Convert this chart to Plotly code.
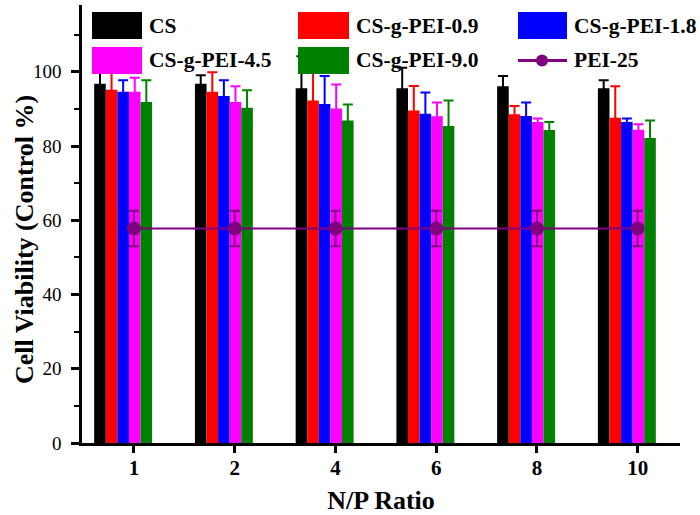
import plotly.graph_objects as go

# ---------------- data ----------------
np_ratio = ["1", "2", "4", "6", "8", "10"]

series_names = ["CS", "CS-g-PEI-0.9", "CS-g-PEI-1.8", "CS-g-PEI-4.5", "CS-g-PEI-9.0"]

cs_vals = [96.8, 96.8, 95.6, 95.6, 96.1, 95.6]
cs_err = [3.0, 2.3, 8.6, 5.5, 2.8, 2.1]

pei09_vals = [95.2, 94.6, 92.3, 89.6, 88.6, 87.6]
pei09_err = [4.7, 5.3, 8.8, 6.6, 2.2, 8.5]

pei18_vals = [94.6, 93.5, 91.3, 88.7, 88.1, 86.5]
pei18_err = [3.1, 4.2, 7.6, 5.7, 3.6, 0.9]

pei45_vals = [94.6, 91.9, 90.1, 88.0, 86.5, 84.4]
pei45_err = [3.8, 4.2, 6.5, 3.7, 0.9, 1.5]

pei90_vals = [91.9, 90.3, 86.9, 85.4, 84.3, 82.2]
pei90_err = [5.8, 4.7, 4.3, 6.9, 2.2, 4.7]

pei25_vals = [57.8, 57.8, 57.8, 57.8, 57.8, 57.8]
pei25_err = [4.8, 4.8, 4.8, 4.8, 4.8, 4.8]

# ---------------- style ----------------
colors = ["#000000", "#FF0000", "#0000FF", "#FF00FF", "#008000"]
pei25_color = "#800080"
FONT = "Liberation Serif"

values = [cs_vals, pei09_vals, pei18_vals, pei45_vals, pei90_vals]
errors = [cs_err, pei09_err, pei18_err, pei45_err, pei90_err]
bar_w = 0.115
offsets = [-0.395, -0.28, -0.165, -0.05, 0.065]

fig = go.Figure()
for name, v, e, c, off in zip(series_names, values, errors, colors, offsets):
    fig.add_trace(go.Bar(
        x=np_ratio, y=v, name=name, width=bar_w, offset=off,
        marker=dict(color=c, line=dict(width=0)),
        error_y=dict(type="data", array=e, color=c, thickness=2, width=5),
        showlegend=False,
    ))

fig.add_trace(go.Scatter(
    x=np_ratio, y=pei25_vals, name="PEI-25", mode="lines+markers",
    line=dict(color=pei25_color, width=2),
    marker=dict(color=pei25_color, size=14, symbol="circle"),
    error_y=dict(type="data", array=pei25_err, color=pei25_color, thickness=2, width=5),
    showlegend=False,
))

# plot area in pixels
L, R, T, B = 82, 680, 5, 443


def px(xp):
    return (xp - L) / (R - L)


def py(yp):
    return (B - yp) / (B - T)


# manual legend (large boxes as in the original)
legend_rows = [
    [(92, 142, colors[0], "CS"), (298, 349, colors[1], "CS-g-PEI-0.9"), (518, 567, colors[2], "CS-g-PEI-1.8")],
    [(92, 142, colors[3], "CS-g-PEI-4.5"), (298, 349, colors[4], "CS-g-PEI-9.0"), (518, 567, None, "PEI-25")],
]
row_y = [(12, 39), (47, 74)]
shapes = []
annotations = []
for (y0, y1), row in zip(row_y, legend_rows):
    yc = (y0 + y1) / 2
    for x0, x1, c, label in row:
        if c is not None:
            shapes.append(dict(type="rect", xref="paper", yref="paper",
                               x0=px(x0), x1=px(x1), y0=py(y1), y1=py(y0),
                               fillcolor=c, line=dict(width=0), layer="above"))
        else:
            shapes.append(dict(type="line", xref="paper", yref="paper",
                               x0=px(x0), x1=px(x1), y0=py(yc), y1=py(yc),
                               line=dict(color=pei25_color, width=3), layer="above"))
            shapes.append(dict(type="circle", xref="paper", yref="paper",
                               x0=px(536), x1=px(548), y0=py(yc + 6), y1=py(yc - 6),
                               fillcolor=pei25_color, line=dict(width=0), layer="above"))
        annotations.append(dict(xref="paper", yref="paper", x=px(x1 + 5), y=py(yc),
                                xanchor="left", yanchor="middle", showarrow=False,
                                text=f"<b>{label}</b>",
                                font=dict(family=FONT, size=21.5, color="black")))

annotations.append(dict(xref="paper", yref="paper", x=px(24), y=py(240),
                        xanchor="center", yanchor="middle", showarrow=False,
                        textangle=-90, text="<b>Cell Viability (Control %)</b>",
                        font=dict(family=FONT, size=26, color="black")))

fig.update_layout(
    width=700, height=515,
    margin=dict(l=L, r=700 - R, t=T, b=515 - B),
    paper_bgcolor="white", plot_bgcolor="white",
    barmode="overlay",
    shapes=shapes, annotations=annotations,
    font=dict(family=FONT, color="black"),
    showlegend=False,
)

fig.update_xaxes(
    type="category", range=[-0.516, 5.42],
    showline=True, linecolor="black", linewidth=2.5,
    ticks="outside", ticklen=7, tickwidth=2.5, tickcolor="black",
    tickfont=dict(family=FONT, size=21, color="black"),
    tickprefix="<b>", ticksuffix="</b>",
    ticklabelstandoff=-3,
    showgrid=False, zeroline=False,
    title=dict(text="<b>N/P Ratio</b>", font=dict(family=FONT, size=26, color="black"), standoff=12),
    automargin=False,
)
fig.update_yaxes(
    range=[0, 118], tickvals=[0, 20, 40, 60, 80, 100],
    showline=True, linecolor="black", linewidth=2.5,
    ticks="outside", ticklen=8, tickwidth=2.5, tickcolor="black",
    minor=dict(tickvals=[10, 30, 50, 70, 90, 110], ticks="outside", ticklen=5, tickwidth=2, tickcolor="black"),
    tickfont=dict(family=FONT, size=19, color="black"),
    tickprefix="<b>", ticksuffix="</b>",
    ticklabelstandoff=6,
    showgrid=False, zeroline=False,
    automargin=False,
)

fig.write_html(
    "out.html",
    config={"displayModeBar": False},
    post_script="document.body.style.margin='0';document.body.style.overflow='hidden';",
)
